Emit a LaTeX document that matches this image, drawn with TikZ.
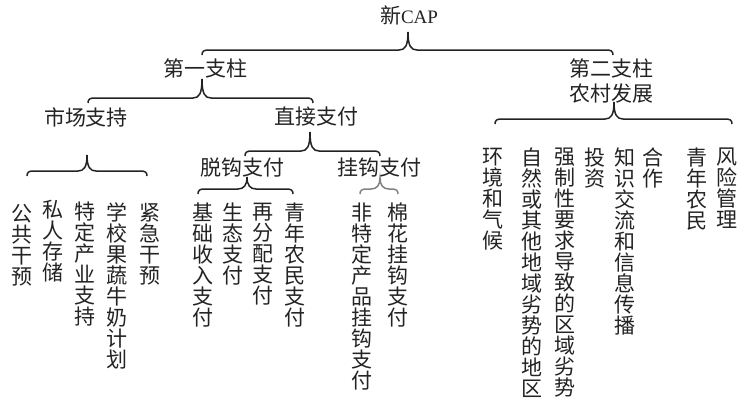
\documentclass[tikz,border=0pt]{standalone}
\usepackage{fontspec}
\setmainfont{Noto Sans CJK SC}
\newfontfamily\lserif{Liberation Serif}
\definecolor{txt}{RGB}{35,35,35}
\definecolor{brgray}{RGB}{130,130,130}
\tikzset{
  lbl/.style={font=\fontsize{21}{25}\selectfont, text=txt, inner sep=0pt, align=center},
  vlbl/.style={font=\fontsize{21}{21}\selectfont, text=txt, inner sep=0pt, align=center, anchor=north},
  brc/.style={draw=txt, line width=1.5pt},
  brcg/.style={draw=brgray, line width=1.5pt}
}
% #1 style, #2 left x, #3 right x, #4 tip x, #5 line y, #6 tip y
\newcommand\bracepath[6]{%
  \draw[#1] ({#2},{#5+5}) .. controls ({#2},{#5+1}) and ({#2+2},{#5}) .. ({#2+7},{#5})
    -- ({#4-9},{#5}) .. controls ({#4-3},{#5}) and ({#4},{#5-4}) .. ({#4},{#6})
    .. controls ({#4},{#5-4}) and ({#4+3},{#5}) .. ({#4+9},{#5})
    -- ({#3-7},{#5}) .. controls ({#3-2},{#5}) and ({#3},{#5+1}) .. ({#3},{#5+5});}
\begin{document}
\begin{tikzpicture}[x=1pt,y=-1pt]
\useasboundingbox (0,0) rectangle (737,402);
% headings
\node[lbl] (cap) at (409,15) {新{\lserif\fontsize{19}{19}\selectfont CAP}};
\node[lbl] (p1) at (205,68) {第一支柱};
\node[lbl] (p2) at (611,80.5) {第二支柱\\农村发展};
\node[lbl] (mkt) at (86,117) {市场支持};
\node[lbl] (dir) at (316,117) {直接支付};
\node[lbl] (dec) at (242,168) {脱钩支付};
\node[lbl] (cpl) at (379,168) {挂钩支付};
% braces
\bracepath{brc}{202}{613}{408}{50}{32}
\bracepath{brc}{88}{313}{202}{98}{79}
\bracepath{brc}{495}{732}{614}{119}{102}
\bracepath{brc}{27}{147}{87}{171}{155}
\bracepath{brc}{245}{380}{310}{151}{132}
\bracepath{brc}{198}{293}{247}{189}{177}
\bracepath{brcg}{360}{398}{380}{189}{178}
% market support leaves
\node[vlbl] (m1) at (22,204) {公\\共\\干\\预};
\node[vlbl] (m2) at (53,200) {私\\人\\存\\储};
\node[vlbl] (m3) at (85,202) {特\\定\\产\\业\\支\\持};
\node[vlbl] (m4) at (117,202) {学\\校\\果\\蔬\\牛\\奶\\计\\划};
\node[vlbl] (m5) at (150,203) {紧\\急\\干\\预};
% decoupled payments
\node[vlbl] (d1) at (203,203) {基\\础\\收\\入\\支\\付};
\node[vlbl] (d2) at (233,203) {生\\态\\支\\付};
\node[vlbl] (d3) at (263,203) {再\\分\\配\\支\\付};
\node[vlbl] (d4) at (295,203) {青\\年\\农\\民\\支\\付};
% coupled payments
\node[vlbl] (c1) at (362,203) {非\\特\\定\\产\\品\\挂\\钩\\支\\付};
\node[vlbl] (c2) at (398,203) {棉\\花\\挂\\钩\\支\\付};
% rural development
\node[vlbl] (r1) at (493,148) {环\\境\\和\\气\\候};
\node[vlbl] (r2) at (532,148) {自\\然\\或\\其\\他\\地\\域\\劣\\势\\的\\地\\区};
\node[vlbl] (r3) at (565,148) {强\\制\\性\\要\\求\\导\\致\\的\\区\\域\\劣\\势};
\node[vlbl] (r4) at (595,148) {投\\资};
\node[vlbl] (r5) at (625,148) {知\\识\\交\\流\\和\\信\\息\\传\\播};
\node[vlbl] (r6) at (653,148) {合\\作};
\node[vlbl] (r7) at (697,148) {青\\年\\农\\民};
\node[vlbl] (r8) at (727,148) {风\\险\\管\\理};
\end{tikzpicture}
\end{document}
